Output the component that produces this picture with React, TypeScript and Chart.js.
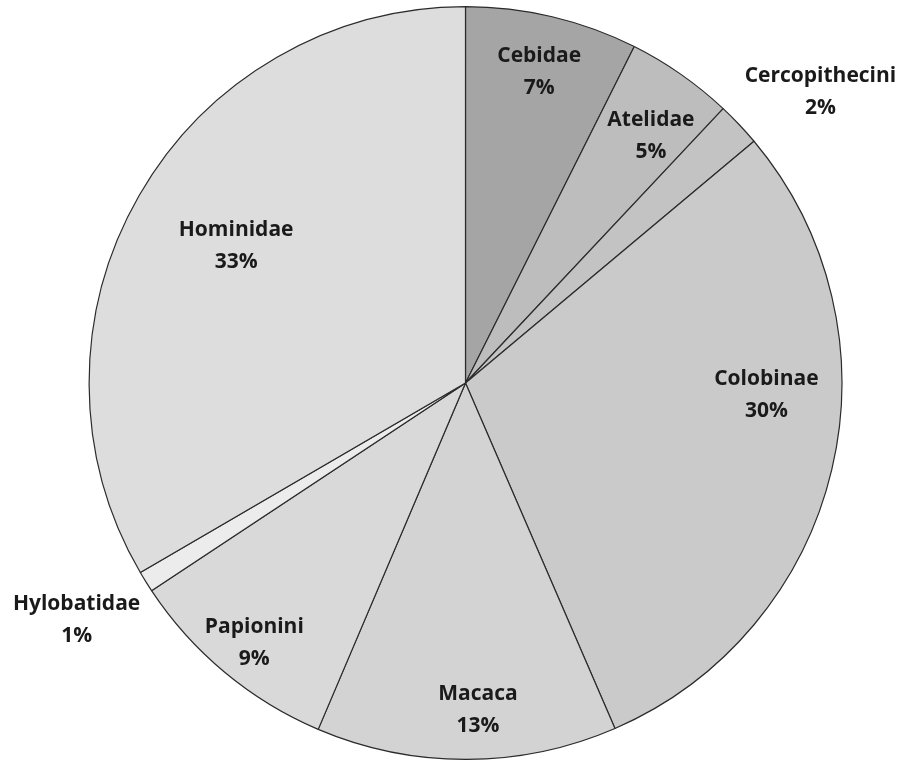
import React, { useEffect, useRef } from "react";
import { Chart, registerables } from "chart.js";

Chart.register(...registerables);

const categories = [
  "Cebidae",
  "Atelidae",
  "Cercopithecini",
  "Colobinae",
  "Macaca",
  "Papionini",
  "Hylobatidae",
  "Hominidae",
];
const shares = [7.4, 4.6, 1.9, 29.6, 12.9, 9.3, 0.9, 33.4];
const sliceColors = [
  "#a5a5a5",
  "#bdbdbd",
  "#c3c3c3",
  "#cacaca",
  "#d3d3d3",
  "#d9d9d9",
  "#ececec",
  "#dddddd",
];
// label placement: radial factor (of outer radius) and angular shift (deg)
const labelRadius = [0.85, 0.82, 1.22, 0.8, 0.87, 0.89, 1.21, 0.71];
const labelShift = [0, 2, 4, -11, -2, -0.7, 0.5, 1];

const FONT = 'bold 21px "Open Sans", "DejaVu Sans", sans-serif';
const LINE_GAP = 32;

const labelPlugin = {
  id: "sliceLabels",
  afterDatasetsDraw(chart: any) {
    const ctx = chart.ctx;
    const meta = chart.getDatasetMeta(0);
    const data = chart.data.datasets[0].data as number[];
    const total = data.reduce((a, b) => a + b, 0);
    ctx.save();
    ctx.font = FONT;
    ctx.fillStyle = "#1a1a1a";
    ctx.textAlign = "center";
    ctx.textBaseline = "middle";
    meta.data.forEach((arc: any, i: number) => {
      const p = arc.getProps(["x", "y", "startAngle", "endAngle", "outerRadius"], true);
      const mid = (p.startAngle + p.endAngle) / 2 + (labelShift[i] * Math.PI) / 180;
      const r = p.outerRadius * labelRadius[i];
      const cx = p.x + Math.cos(mid) * r;
      const cy = p.y + Math.sin(mid) * r;
      const pct = Math.round((data[i] / total) * 100) + "%";
      ctx.fillText(chart.data.labels[i], cx, cy - LINE_GAP / 2);
      ctx.fillText(pct, cx, cy + LINE_GAP / 2);
    });
    ctx.restore();
  },
};

export default function App() {
  const ref = useRef<HTMLCanvasElement | null>(null);
  useEffect(() => {
    if (!ref.current) return;
    const chart = new Chart(ref.current, {
      type: "pie",
      data: {
        labels: categories,
        datasets: [
          {
            data: shares,
            backgroundColor: sliceColors,
            borderColor: "#2b2b2b",
            borderWidth: 1.2,
          },
        ],
      },
      options: {
        responsive: false,
        animation: false,
        layout: { padding: { left: 88, right: 64, top: 6, bottom: 2 } },
        plugins: {
          legend: { display: false },
          tooltip: { enabled: false },
        },
      },
      plugins: [labelPlugin],
    });
    return () => chart.destroy();
  }, []);
  return (
    <div style={{ position: "absolute", left: 0, top: 0, width: 907, height: 762, background: "#fff" }}>
      <canvas ref={ref} width={907} height={762} />
    </div>
  );
}
